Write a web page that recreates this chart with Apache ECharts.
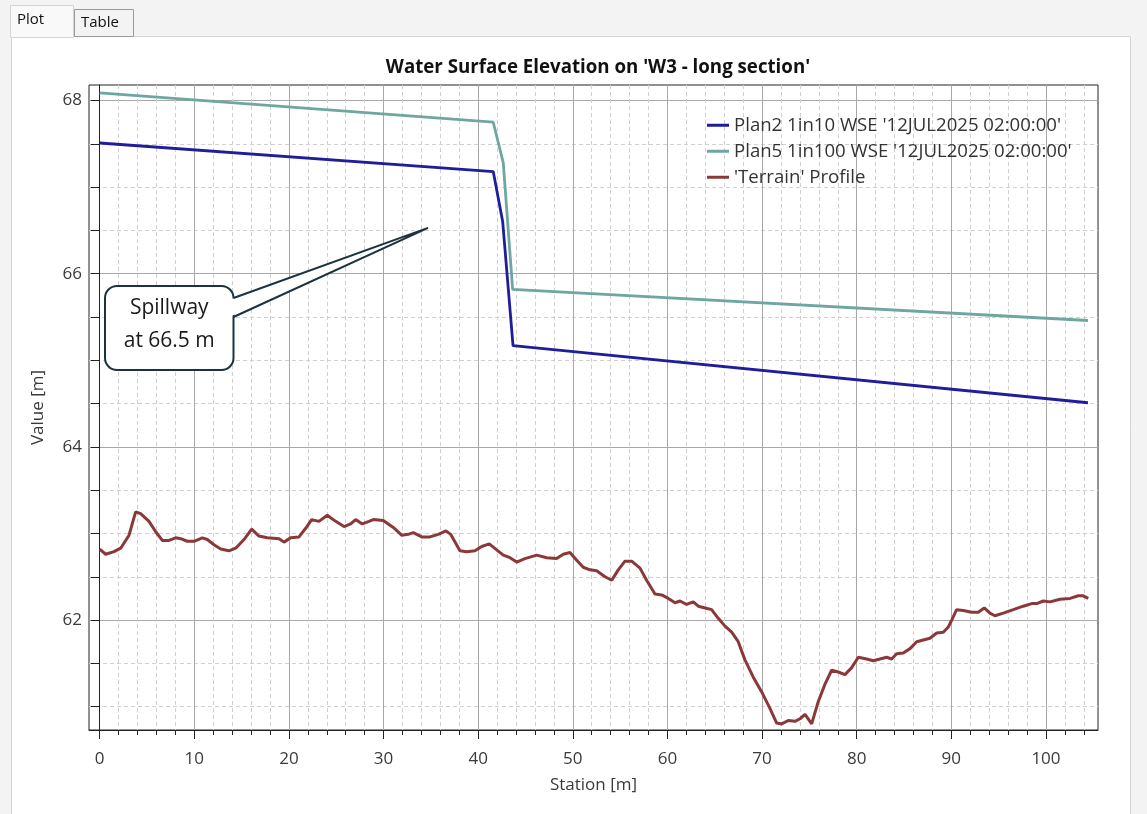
<!DOCTYPE html>
<html>
<head>
<meta charset="utf-8">
<script src="https://cdn.jsdelivr.net/npm/echarts@6/dist/echarts.min.js"></script>
<style>
html,body{margin:0;padding:0;background:#f3f3f3;}
#c{width:1147px;height:814px;}
</style>
</head>
<body>
<div id="c"></div>
<script>
// ---------- data ----------
const seriesNames = [
  "Plan2 1in10 WSE '12JUL2025 02:00:00'",
  "Plan5 1in100 WSE '12JUL2025 02:00:00'",
  "'Terrain' Profile"
];
const wse1Station = [0, 41.59, 42.59, 43.68, 104.44];
const wse1Value   = [67.51, 67.18, 66.60, 65.17, 64.51];
const wse2Station = [0, 41.59, 42.65, 43.64, 104.44];
const wse2Value   = [68.09, 67.75, 67.28, 65.82, 65.46];
const terrainStation = [0, 0.63, 1.51, 2.22, 3.10, 3.80, 4.33, 5.21, 5.92, 6.62, 7.32, 8.03, 8.56, 9.26, 9.97, 10.84, 11.37, 12.08, 12.79, 13.66, 14.37, 15.25, 16.06, 16.83, 17.71, 18.95, 19.48, 20.18, 21.06, 21.77, 22.40, 23.17, 24.05, 24.94, 25.82, 26.52, 27.05, 27.75, 28.46, 28.91, 29.97, 31.03, 31.91, 32.61, 33.14, 34.03, 34.90, 35.78, 36.60, 37.09, 38.07, 38.78, 39.66, 40.37, 41.17, 41.95, 42.65, 43.36, 44.07, 44.94, 46.18, 47.24, 48.29, 48.99, 49.70, 50.41, 51.10, 51.81, 52.52, 53.40, 54.11, 54.80, 55.51, 56.22, 57.10, 57.80, 58.68, 59.39, 60.09, 60.80, 61.33, 62.03, 62.73, 63.26, 63.97, 64.67, 65.37, 66.08, 66.79, 67.48, 68.19, 69.07, 69.96, 70.83, 71.54, 72.07, 72.77, 73.48, 74.01, 74.54, 75.24, 75.94, 76.65, 77.35, 78.05, 78.76, 79.47, 80.17, 81.05, 81.75, 82.46, 83.17, 83.70, 84.22, 84.92, 85.63, 86.34, 87.04, 87.74, 88.45, 89.15, 89.68, 90.04, 90.56, 91.26, 92.15, 92.85, 93.48, 94.08, 94.61, 95.49, 96.55, 97.60, 98.49, 99.02, 99.72, 100.41, 101.48, 102.54, 103.42, 103.94, 104.47];
const terrainValue = [62.82, 62.76, 62.79, 62.83, 62.98, 63.25, 63.23, 63.14, 63.02, 62.92, 62.92, 62.95, 62.94, 62.91, 62.91, 62.95, 62.93, 62.87, 62.82, 62.80, 62.83, 62.93, 63.05, 62.97, 62.95, 62.94, 62.90, 62.95, 62.96, 63.06, 63.16, 63.14, 63.21, 63.14, 63.08, 63.11, 63.16, 63.11, 63.14, 63.16, 63.15, 63.07, 62.98, 62.99, 63.01, 62.96, 62.96, 62.99, 63.03, 62.99, 62.80, 62.79, 62.80, 62.85, 62.88, 62.81, 62.75, 62.72, 62.67, 62.71, 62.75, 62.72, 62.71, 62.76, 62.78, 62.69, 62.61, 62.58, 62.57, 62.50, 62.46, 62.58, 62.68, 62.68, 62.60, 62.46, 62.30, 62.29, 62.25, 62.20, 62.22, 62.18, 62.21, 62.16, 62.14, 62.12, 62.02, 61.93, 61.86, 61.75, 61.54, 61.34, 61.17, 60.98, 60.81, 60.80, 60.84, 60.83, 60.86, 60.91, 60.80, 61.06, 61.26, 61.42, 61.40, 61.37, 61.45, 61.57, 61.55, 61.53, 61.55, 61.57, 61.55, 61.61, 61.62, 61.67, 61.75, 61.77, 61.79, 61.85, 61.86, 61.92, 62.00, 62.12, 62.11, 62.09, 62.09, 62.14, 62.08, 62.05, 62.08, 62.12, 62.16, 62.19, 62.19, 62.22, 62.21, 62.24, 62.25, 62.28, 62.28, 62.25];
const xLabelTicks = [0, 10, 20, 30, 40, 50, 60, 70, 80, 90, 100];
const xMinorTicks = [0, 2, 4, 6, 8, 10, 12, 14, 16, 18, 20, 22, 24, 26, 28, 30, 32, 34, 36, 38, 40, 42, 44, 46, 48, 50, 52, 54, 56, 58, 60, 62, 64, 66, 68, 70, 72, 74, 76, 78, 80, 82, 84, 86, 88, 90, 92, 94, 96, 98, 100, 102, 104];
const yLabelTicks = [62, 64, 66, 68];
const yMinorTicks = [61, 61.5, 62, 62.5, 63, 63.5, 64, 64.5, 65, 65.5, 66, 66.5, 67, 67.5, 68];
const titleText = "Water Surface Elevation on 'W3 - long section'";
const xName = "Station [m]";
const yName = "Value [m]";
const calloutLines = ["Spillway", "at 66.5 m"];
const calloutTip = [34.7, 66.53];
const tabs = ["Plot", "Table"];

// ---------- chart ----------
const X_MIN = -1.13, X_MAX = 105.5, Y_MIN = 60.73, Y_MAX = 68.18;
const FONT = "'Open Sans', 'Noto Sans', sans-serif";
const G = {left: 89, top: 85, width: 1009, height: 645};
const zip = (a, b) => a.map((v, i) => [v, b[i]]);

const chart = echarts.init(document.getElementById('c'), null, {renderer: 'canvas'});

const baseX = {type: 'value', min: X_MIN, max: X_MAX, position: 'bottom'};
const baseY = {type: 'value', min: Y_MIN, max: Y_MAX, position: 'left'};
const labelColor = '#3a3a3a';

const option = {
  backgroundColor: '#f3f3f3',
  animation: false,
  title: {
    text: titleText, left: 593, top: 53, textAlign: 'center',
    textStyle: {fontFamily: FONT, fontSize: 18.7, fontWeight: 'bold', color: '#111'}
  },
  legend: {
    data: seriesNames, orient: 'vertical', left: 702, top: 109,
    icon: 'rect', itemWidth: 22, itemHeight: 3, itemGap: 3.5,
    textStyle: {fontFamily: FONT, fontSize: 18.6, color: '#333', lineHeight: 22.5}
  },
  grid: [
    Object.assign({}, G),
    Object.assign({}, G),
    Object.assign({}, G, {show: true, borderColor: '#222', borderWidth: 1, backgroundColor: 'transparent'})
  ],
  xAxis: [
    Object.assign({}, baseX, {
      gridIndex: 0,
      axisLine: {show: false},
      axisTick: {show: true, customValues: xMinorTicks, length: 5, lineStyle: {color: '#222'}},
      axisLabel: {show: false},
      splitLine: {show: true, lineStyle: {color: '#d0d0d0', type: [4, 3], width: 1}}
    }),
    Object.assign({}, baseX, {
      gridIndex: 1,
      axisLine: {show: false},
      axisTick: {show: true, customValues: xLabelTicks, length: 9, lineStyle: {color: '#222'}},
      axisLabel: {show: false},
      splitLine: {show: true, lineStyle: {color: '#a8a8a8', type: 'solid', width: 1}}
    }),
    Object.assign({}, baseX, {
      gridIndex: 2,
      axisLine: {show: true, lineStyle: {color: '#222'}},
      axisTick: {show: false},
      axisLabel: {customValues: xLabelTicks, margin: 21, fontFamily: FONT, fontSize: 17, color: labelColor,
                  formatter: v => String(Math.round(v))},
      splitLine: {show: false},
      name: xName, nameLocation: 'middle', nameGap: 47,
      nameTextStyle: {fontFamily: FONT, fontSize: 17, color: labelColor}
    })
  ],
  yAxis: [
    Object.assign({}, baseY, {
      gridIndex: 0,
      axisLine: {show: false},
      axisTick: {show: true, customValues: yMinorTicks, length: 9, lineStyle: {color: '#222'}},
      axisLabel: {show: false},
      splitLine: {show: true, lineStyle: {color: '#d0d0d0', type: [4, 3], width: 1}}
    }),
    Object.assign({}, baseY, {
      gridIndex: 1,
      axisLine: {show: false},
      axisTick: {show: false, customValues: yLabelTicks},
      axisLabel: {show: false},
      splitLine: {show: true, lineStyle: {color: '#a8a8a8', type: 'solid', width: 1}}
    }),
    Object.assign({}, baseY, {
      gridIndex: 2,
      axisLine: {show: true, lineStyle: {color: '#222'}},
      axisTick: {show: false},
      axisLabel: {customValues: yLabelTicks, margin: 7, fontFamily: FONT, fontSize: 17, color: labelColor,
                  formatter: v => String(Math.round(v))},
      splitLine: {show: false},
      name: yName, nameLocation: 'middle', nameGap: 42, nameRotate: 90,
      nameTextStyle: {fontFamily: FONT, fontSize: 17, color: labelColor}
    })
  ],
  series: [
    {name: seriesNames[0], type: 'line', xAxisIndex: 2, yAxisIndex: 2, data: zip(wse1Station, wse1Value),
     showSymbol: false, symbol: 'none', color: '#1e1e9a', lineStyle: {width: 2.8, color: '#1e1e9a'}, z: 4},
    {name: seriesNames[1], type: 'line', xAxisIndex: 2, yAxisIndex: 2, data: zip(wse2Station, wse2Value),
     showSymbol: false, symbol: 'none', color: '#6ea79f', lineStyle: {width: 2.8, color: '#6ea79f'}, z: 4},
    {name: seriesNames[2], type: 'line', xAxisIndex: 2, yAxisIndex: 2, data: zip(terrainStation, terrainValue),
     showSymbol: false, symbol: 'none', color: '#8b3838', lineStyle: {width: 3, color: '#8b3838'}, z: 4}
  ]
};
chart.setOption(option);

// ---------- frame, tabs & callout ----------
const tip = chart.convertToPixel({xAxisIndex: 2, yAxisIndex: 2}, calloutTip);
const bx0 = 105, by0 = 286, bx1 = 233.5, by1 = 370, r = 12;
const a1 = 298, a2 = 317;
const cx = (bx0 + bx1) / 2;
const stroke = '#1c3240';

chart.setOption({
  graphic: [
    // panel
    {type: 'rect', z: -10, silent: true, shape: {x: 11.5, y: 36.5, width: 1119, height: 790},
     style: {fill: '#ffffff', stroke: '#d4d4d4', lineWidth: 1}},
    // tabs
    {type: 'rect', z: -9, silent: true, shape: {x: 10.5, y: 5.5, width: 63, height: 32},
     style: {fill: '#f9f9f9', stroke: '#d4d4d4', lineWidth: 1}},
    {type: 'rect', z: -9, silent: true, shape: {x: 74.5, y: 9.5, width: 59, height: 27},
     style: {fill: '#f3f3f3', stroke: '#9a9a9a', lineWidth: 1}},
    {type: 'text', z: -8, silent: true, x: 17, y: 20,
     style: {text: tabs[0], fontFamily: FONT, fontSize: 15, fill: '#111', verticalAlign: 'middle'}},
    {type: 'text', z: -8, silent: true, x: 81, y: 23,
     style: {text: tabs[1], fontFamily: FONT, fontSize: 15, fill: '#111', verticalAlign: 'middle'}},
    // callout box
    {type: 'rect', z: 20, silent: true, shape: {x: bx0, y: by0, width: bx1 - bx0, height: by1 - by0, r: r},
     style: {fill: '#ffffff', stroke: stroke, lineWidth: 2}},
    // wedge fill
    {type: 'polygon', z: 21, silent: true, shape: {points: [[bx1 - 2, a1 + 1], tip, [bx1 - 2, a2 - 1]]},
     style: {fill: '#ffffff', stroke: null}},
    // wedge outline
    {type: 'polyline', z: 22, silent: true, shape: {points: [[bx1, a1], tip, [bx1, a2]]},
     style: {fill: null, stroke: stroke, lineWidth: 2, lineJoin: 'miter'}},
    {type: 'text', z: 23, silent: true, x: cx, y: 308,
     style: {text: calloutLines[0], fontFamily: FONT, fontSize: 21, fill: '#1a1a1a', align: 'center', verticalAlign: 'middle'}},
    {type: 'text', z: 23, silent: true, x: cx, y: 341,
     style: {text: calloutLines[1], fontFamily: FONT, fontSize: 21, fill: '#1a1a1a', align: 'center', verticalAlign: 'middle'}}
  ]
});
</script>
</body>
</html>
